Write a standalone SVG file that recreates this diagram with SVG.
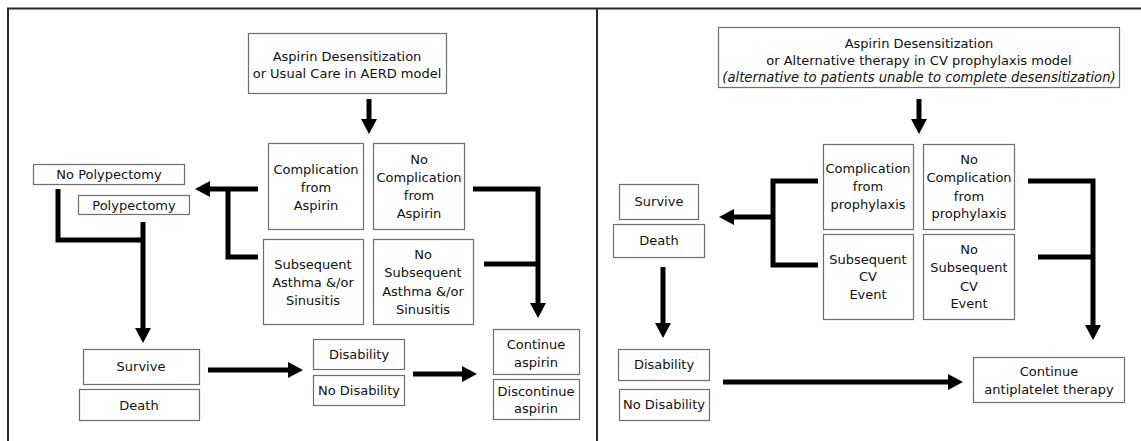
<svg xmlns="http://www.w3.org/2000/svg" width="1141" height="441" viewBox="0 0 1141 441">
<style>
.bg{fill:#fff}
.frame{stroke:#2a2a2a;stroke-width:2;fill:none}
.box{fill:#fff;stroke:#6e6e6e;stroke-width:1.2}
text{font-family:"DejaVu Sans",Verdana,sans-serif;font-size:13px;fill:#111;text-anchor:middle}
.it{font-style:italic;font-size:13.2px}
.conn{stroke:#000;stroke-width:5;fill:none;stroke-linejoin:miter;stroke-linecap:butt}
</style>
<defs>
<marker id="ah" markerUnits="userSpaceOnUse" markerWidth="15" markerHeight="16" refX="0" refY="8" orient="auto" viewBox="0 0 15 16">
<path d="M0,0 L15,8 L0,16 z" fill="#000"/>
</marker>
</defs>
<rect class="bg" x="0" y="0" width="1141" height="441"/>
<g id="frame">
<path class="frame" d="M8,441 V8.5 H1141"/>
<path class="frame" d="M597,8.5 V441"/>
</g>

<g id="connectors">
<!-- left panel -->
<path class="conn" d="M369,99 V119" marker-end="url(#ah)"/>
<path class="conn" d="M258,189 H210" marker-end="url(#ah)"/>
<path class="conn" d="M228,189 V257 H258"/>
<path class="conn" d="M473,189 H538 V303" marker-end="url(#ah)"/>
<path class="conn" d="M484,264 H538"/>
<path class="conn" d="M58,189 V240 H143"/>
<path class="conn" d="M143,222 V328" marker-end="url(#ah)"/>
<path class="conn" d="M208,370 H288" marker-end="url(#ah)"/>
<path class="conn" d="M413,374 H462" marker-end="url(#ah)"/>
<!-- right panel -->
<path class="conn" d="M919,99 V119" marker-end="url(#ah)"/>
<path class="conn" d="M818,181 H773 V265 H818"/>
<path class="conn" d="M773,217 H734" marker-end="url(#ah)"/>
<path class="conn" d="M663,267 V323" marker-end="url(#ah)"/>
<path class="conn" d="M723,382 H948" marker-end="url(#ah)"/>
<path class="conn" d="M1028,181 H1093 V325" marker-end="url(#ah)"/>
<path class="conn" d="M1038,257 H1093"/>
</g>

<!-- left panel nodes -->
<g id="l-start">
<rect class="box" x="248.5" y="33.5" width="198" height="60"/>
<text x="347" y="61">Aspirin Desensitization</text>
<text x="347" y="78">or Usual Care in AERD model</text>
</g>
<g id="l-complication">
<rect class="box" x="268.5" y="143.5" width="95" height="86"/>
<text x="316" y="174">Complication</text>
<text x="316" y="192">from</text>
<text x="316" y="210">Aspirin</text>
</g>
<g id="l-no-complication">
<rect class="box" x="373.5" y="143.5" width="91" height="86"/>
<text x="419" y="164">No</text>
<text x="419" y="182">Complication</text>
<text x="419" y="200">from</text>
<text x="419" y="218">Aspirin</text>
</g>
<g id="l-subsequent">
<rect class="box" x="263.5" y="239.5" width="100" height="85"/>
<text x="313" y="269">Subsequent</text>
<text x="313" y="287">Asthma &amp;/or</text>
<text x="313" y="305">Sinusitis</text>
</g>
<g id="l-no-subsequent">
<rect class="box" x="373.5" y="239.5" width="100" height="85"/>
<text x="423" y="259">No</text>
<text x="423" y="277">Subsequent</text>
<text x="423" y="296">Asthma &amp;/or</text>
<text x="423" y="314">Sinusitis</text>
</g>
<g id="l-no-polypectomy">
<rect class="box" x="33.5" y="164.5" width="151" height="20"/>
<text x="109" y="179">No Polypectomy</text>
</g>
<g id="l-polypectomy">
<rect class="box" x="78.5" y="195.5" width="111" height="19"/>
<text x="134" y="210">Polypectomy</text>
</g>
<g id="l-survive">
<rect class="box" x="83.5" y="349.5" width="116" height="35"/>
<text x="141" y="371">Survive</text>
</g>
<g id="l-death">
<rect class="box" x="79.5" y="389.5" width="120" height="31"/>
<text x="139" y="410">Death</text>
</g>
<g id="l-disability">
<rect class="box" x="313.5" y="339.5" width="91" height="30"/>
<text x="359" y="359">Disability</text>
</g>
<g id="l-no-disability">
<rect class="box" x="313.5" y="375.5" width="91" height="30"/>
<text x="359" y="395">No Disability</text>
</g>
<g id="l-continue">
<rect class="box" x="493.5" y="329.5" width="86" height="45"/>
<text x="536" y="349">Continue</text>
<text x="536" y="367">aspirin</text>
</g>
<g id="l-discontinue">
<rect class="box" x="493.5" y="379.5" width="86" height="40"/>
<text x="536" y="396">Discontinue</text>
<text x="536" y="413">aspirin</text>
</g>

<!-- right panel nodes -->
<g id="r-start">
<rect class="box" x="718.5" y="27.5" width="401" height="60"/>
<text x="919" y="48">Aspirin Desensitization</text>
<text x="919" y="65">or Alternative therapy in CV prophylaxis model</text>
<text class="it" x="919" y="82">(alternative to patients unable to complete desensitization)</text>
</g>
<g id="r-complication">
<rect class="box" x="823.5" y="144.5" width="90" height="85"/>
<text x="868" y="173">Complication</text>
<text x="868" y="191">from</text>
<text x="868" y="209">prophylaxis</text>
</g>
<g id="r-no-complication">
<rect class="box" x="923.5" y="144.5" width="91" height="85"/>
<text x="969" y="164">No</text>
<text x="969" y="182">Complication</text>
<text x="969" y="201">from</text>
<text x="969" y="218">prophylaxis</text>
</g>
<g id="r-subsequent">
<rect class="box" x="823.5" y="234.5" width="90" height="85"/>
<text x="868" y="264">Subsequent</text>
<text x="868" y="281">CV</text>
<text x="868" y="299">Event</text>
</g>
<g id="r-no-subsequent">
<rect class="box" x="923.5" y="234.5" width="91" height="85"/>
<text x="969" y="254">No</text>
<text x="969" y="272">Subsequent</text>
<text x="969" y="291">CV</text>
<text x="969" y="308">Event</text>
</g>
<g id="r-survive">
<rect class="box" x="619.5" y="184.5" width="79" height="35"/>
<text x="659" y="206">Survive</text>
</g>
<g id="r-death">
<rect class="box" x="613.5" y="224.5" width="91" height="33"/>
<text x="659" y="245">Death</text>
</g>
<g id="r-disability">
<rect class="box" x="618.5" y="349.5" width="91" height="31"/>
<text x="664" y="369">Disability</text>
</g>
<g id="r-no-disability">
<rect class="box" x="619.5" y="389.5" width="90" height="31"/>
<text x="664" y="409">No Disability</text>
</g>
<g id="r-continue">
<rect class="box" x="973.5" y="357.5" width="151" height="45"/>
<text x="1049" y="376">Continue</text>
<text x="1049" y="394">antiplatelet therapy</text>
</g>
</svg>
